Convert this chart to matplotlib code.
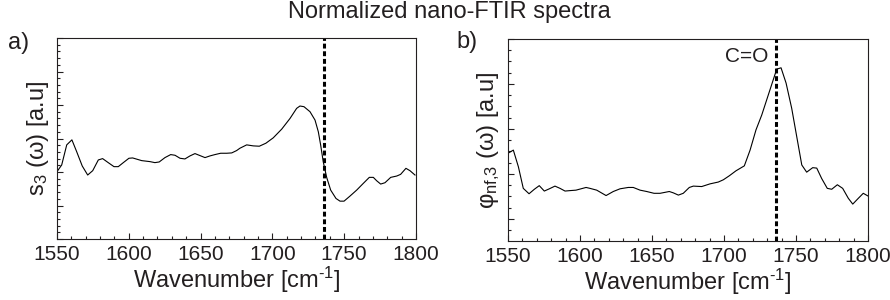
import matplotlib
matplotlib.use("Agg")
import matplotlib.pyplot as plt
from matplotlib.ticker import MultipleLocator

plt.rcParams['font.family'] = ['Liberation Sans', 'DejaVu Sans']
plt.rcParams['mathtext.fontset'] = 'custom'
plt.rcParams['mathtext.rm'] = 'Liberation Sans'
plt.rcParams['mathtext.it'] = 'Liberation Sans'
plt.rcParams['mathtext.sf'] = 'Liberation Sans'

# panel a: amplitude s3
wn_a = [1550, 1553.3, 1556.8, 1560.4, 1563.7, 1567.6, 1571.4, 1574.9, 1578.8, 1581.8,
        1585.7, 1589.7, 1592.7, 1596.2, 1600.1, 1602.7, 1609, 1614.8, 1618.2, 1621.2,
        1625.2, 1629.2, 1632.2, 1635.7, 1639.1, 1642.6, 1646.1, 1649.6, 1653.1, 1656.5,
        1660, 1664, 1668.2, 1671.7, 1675.1, 1677.4, 1682.1, 1686.7, 1690.9, 1695.5,
        1700.6, 1706.5, 1712.3, 1716.9, 1719.2, 1722, 1726.2, 1729.7, 1732, 1733.6,
        1735.4, 1737.8, 1740.6, 1744.3, 1747.1, 1749.9, 1754, 1758.7, 1763.3, 1767.5,
        1770.3, 1772.6, 1775.4, 1778.4, 1782.4, 1786.6, 1789.3, 1793, 1795.8, 1799.3]
s3_a = [2.01, 2.21, 2.81, 2.96, 2.61, 2.18, 1.91, 2.04, 2.36, 2.40,
        2.28, 2.16, 2.16, 2.28, 2.41, 2.42, 2.34, 2.31, 2.28, 2.30,
        2.43, 2.52, 2.50, 2.41, 2.39, 2.48, 2.55, 2.49, 2.43, 2.48,
        2.52, 2.56, 2.56, 2.57, 2.64, 2.71, 2.81, 2.78, 2.77, 2.86,
        3.02, 3.28, 3.60, 3.90, 3.97, 3.95, 3.80, 3.55, 3.20, 2.81,
        2.31, 1.84, 1.46, 1.21, 1.13, 1.13, 1.28, 1.46, 1.66, 1.84,
        1.84, 1.74, 1.64, 1.68, 1.84, 1.88, 1.93, 2.11, 2.04, 1.91]

# panel b: phase phi_nf,3
wn_b = [1550, 1553.7, 1557.2, 1560.6, 1564.6, 1568.3, 1571.7, 1575.2, 1578.7, 1582.6,
        1586.1, 1589.6, 1593.1, 1597.2, 1604.2, 1606.9, 1611.6, 1618.1, 1623.1, 1627.8,
        1633.5, 1637, 1641.7, 1646.3, 1651.4, 1655.6, 1662, 1664.8, 1668.3, 1671.7,
        1675.9, 1678.7, 1684.5, 1690.3, 1696, 1699.5, 1703.7, 1708.3, 1714.1, 1718.1,
        1722.2, 1726.2, 1731.5, 1736.6, 1739.6, 1743.1, 1747, 1750.5, 1754, 1757.4,
        1761.6, 1764.4, 1767.8, 1771.7, 1774.8, 1778.7, 1782.4, 1786.3, 1789.4, 1793.3,
        1796.7, 1800]
phi_b = [2.46, 2.53, 2.16, 1.68, 1.56, 1.66, 1.74, 1.62, 1.67, 1.73,
         1.68, 1.62, 1.63, 1.64, 1.70, 1.68, 1.64, 1.52, 1.61, 1.67,
         1.70, 1.70, 1.64, 1.61, 1.57, 1.57, 1.61, 1.58, 1.53, 1.57,
         1.70, 1.73, 1.72, 1.78, 1.82, 1.87, 1.96, 2.07, 2.18, 2.53,
         2.98, 3.31, 3.83, 4.33, 4.36, 4.02, 3.46, 2.83, 2.20, 2.04,
         2.14, 2.13, 1.90, 1.68, 1.66, 1.76, 1.68, 1.46, 1.33, 1.46,
         1.57, 1.51]

co_band = 1736
txt = '#231f20'

fig = plt.figure(figsize=(8.9, 3.0), dpi=100)
ax_a = fig.add_axes([0.064, 0.2033, 0.4034, 0.67])
ax_b = fig.add_axes([0.5708, 0.1967, 0.4045, 0.6733])

def style(ax, ymin, ymax, ymaj, ymin_step):
    ax.set_xlim(1550, 1800)
    ax.set_ylim(ymin, ymax)
    ax.xaxis.set_major_locator(MultipleLocator(50))
    ax.xaxis.set_minor_locator(MultipleLocator(10))
    ax.yaxis.set_major_locator(MultipleLocator(ymaj))
    ax.yaxis.set_minor_locator(MultipleLocator(ymin_step))
    ax.tick_params(which='both', direction='in', top=False, right=False,
                   labelleft=False, width=0.8, color=txt)
    ax.tick_params(which='major', length=4, labelsize=15, pad=4, labelcolor=txt)
    ax.tick_params(which='minor', length=2)
    for sp in ax.spines.values():
        sp.set_linewidth(0.8)
        sp.set_color(txt)
    ax.set_xlabel('Wavenumber [cm$^{\u20101}$]', fontsize=17, color=txt, labelpad=1)

ax_a.plot(wn_a, s3_a, color='black', lw=0.8)
ax_a.axvline(co_band, color='black', lw=2.2, dashes=(1.6, 0.9))
style(ax_a, 0, 6, 1, 0.2)
ax_a.set_ylabel('s$_3$ (ω) [a.u]', fontsize=17, color=txt, labelpad=4)
ax_a.text(-0.137, 0.975, 'a)', transform=ax_a.transAxes, fontsize=17, color=txt,
          ha='left', va='center')

ax_b.plot(wn_b, phi_b, color='black', lw=0.8)
ax_b.axvline(co_band, color='black', lw=2.2, dashes=(1.6, 0.9))
style(ax_b, 0.51, 5.0, 1, 0.25)
ax_b.set_ylabel('φ$_{\\rm nf{,}3}$ (ω) [a.u]', fontsize=17, color=txt, labelpad=4)
ax_b.text(-0.142, 0.985, 'b)', transform=ax_b.transAxes, fontsize=17, color=txt,
          ha='left', va='center')
ax_b.text(1731, 4.6, 'C=O', fontsize=15, color=txt, ha='right', va='center')

fig.text(0.505, 0.96, 'Normalized nano-FTIR spectra', fontsize=17, color=txt,
         ha='center', va='center')

fig.savefig('out.png', dpi=100)
